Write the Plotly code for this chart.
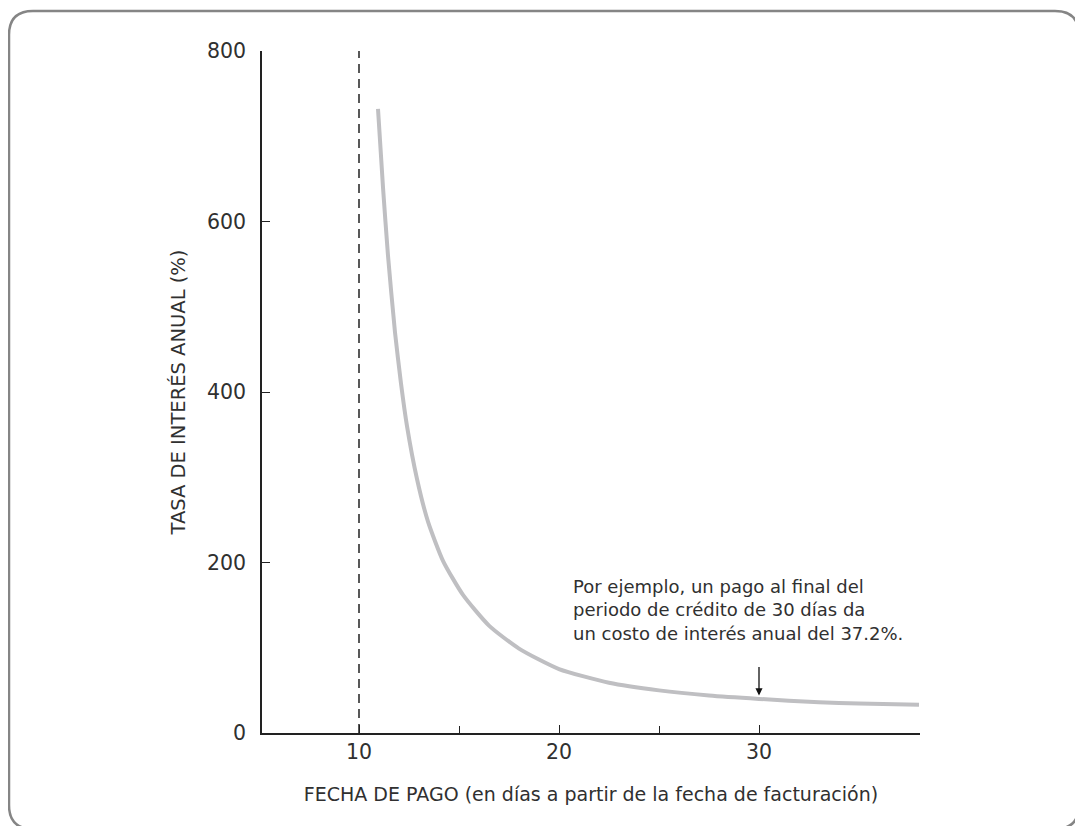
import plotly.graph_objects as go

# =========================================================
# Data
# =========================================================
dias_pago = [10.95, 11.2, 11.45, 11.8, 12.1, 12.4, 12.9, 13.45, 14.2, 15.2,
             16.5, 18.0, 20.0, 22.5, 25.0, 27.5, 30.0, 33.0, 35.0, 38.0]
tasa_anual = [732, 640, 560, 470, 410, 360, 298, 248, 202, 162,
              126, 99, 75, 59, 50, 44, 40, 36, 34.5, 33]

x_ticks = [10, 20, 30]
x_minor = [15, 25]
y_ticks = [0, 200, 400, 600, 800]

descuento_dia = 10
ejemplo_dia = 30
ejemplo_tasa = 44

nota = [
    "Por ejemplo, un pago al final del",
    "periodo de crédito de 30 días da",
    "un costo de interés anual del 37.2%.",
]

FONT = "DejaVu Sans, Liberation Sans, Arial, sans-serif"
TEXT = "#303030"
AXIS = "#222222"

# the page body adds an 8px offset, so the figure is 8px smaller
OFF = 8
W, H = 1083 - OFF, 826 - OFF
L, T = 262 - OFF, 51 - OFF
PW, PH = 658, 682
R, B = W - L - PW, H - T - PH


def to_paper(x, y):
    # screen pixel -> paper coordinates
    return (x - OFF - L) / PW, (T + PH - (y - OFF)) / PH


def rounded_frame(x0, y0, x1, y1, r):
    a = to_paper(x0 + r, y0)
    parts = [f"M {a[0]},{a[1]}"]
    for (lx, ly), (cx, cy), (ex, ey) in [
        ((x1 - r, y0), (x1, y0), (x1, y0 + r)),
        ((x1, y1 - r), (x1, y1), (x1 - r, y1)),
        ((x0 + r, y1), (x0, y1), (x0, y1 - r)),
        ((x0, y0 + r), (x0, y0), (x0 + r, y0)),
    ]:
        p, c, e = to_paper(lx, ly), to_paper(cx, cy), to_paper(ex, ey)
        parts.append(f"L {p[0]},{p[1]}")
        parts.append(f"Q {c[0]},{c[1]} {e[0]},{e[1]}")
    return " ".join(parts) + " Z"


fig = go.Figure()

# curva de tasa
fig.add_trace(
    go.Scatter(
        x=dias_pago,
        y=tasa_anual,
        mode="lines",
        line=dict(color="#bfbfc2", width=4, shape="spline", smoothing=0.6),
        showlegend=False,
        hoverinfo="skip",
    )
)

# linea punteada al final del periodo de descuento
fig.add_shape(
    type="line",
    x0=descuento_dia, x1=descuento_dia, y0=0, y1=800,
    xref="x", yref="y",
    line=dict(color=AXIS, width=1.5, dash="9px,6px"),
)

# marco redondeado (el borde inferior queda cortado como en el original)
fig.add_shape(
    type="path",
    xref="paper", yref="paper",
    path=rounded_frame(9, 11, 1079, 829, 24),
    line=dict(color="#858585", width=2.5),
    layer="below",
)

# flecha al punto de 30 dias
fig.add_annotation(
    x=ejemplo_dia, y=ejemplo_tasa, xref="x", yref="y",
    text="", showarrow=True, ax=0, ay=-30,
    arrowhead=2, arrowsize=1.1, arrowwidth=1.3, arrowcolor="#111111",
)

fig.add_annotation(
    x=20.6, y=to_paper(0, 610)[1], xref="x", yref="paper",
    text="<br>".join(nota), showarrow=False,
    xanchor="left", yanchor="middle", align="left",
    font=dict(family=FONT, size=18, color=TEXT),
)

fig.update_layout(
    width=W,
    height=H,
    margin=dict(l=L, r=R, t=T, b=B),
    paper_bgcolor="white",
    plot_bgcolor="white",
    font=dict(family=FONT, color=TEXT),
    showlegend=False,
)

fig.update_xaxes(
    range=[5.15, 38.05],
    tickvals=x_ticks,
    ticks="inside",
    ticklen=8,
    tickwidth=1.3,
    tickcolor=AXIS,
    minor=dict(tickvals=x_minor, ticks="inside", ticklen=7, tickwidth=1.3, tickcolor=AXIS),
    showline=True,
    linecolor=AXIS,
    linewidth=1.5,
    showgrid=False,
    zeroline=False,
    tickfont=dict(size=20.5, color=TEXT),
    ticklabelstandoff=0,
    title=dict(
        text="FECHA DE PAGO (en días a partir de la fecha de facturación)",
        font=dict(size=19, color=TEXT),
        standoff=24,
    ),
)

fig.update_yaxes(
    range=[0, 800],
    tickvals=y_ticks,
    ticks="inside",
    ticklen=8,
    tickwidth=1.3,
    tickcolor=AXIS,
    showline=True,
    linecolor=AXIS,
    linewidth=1.5,
    showgrid=False,
    zeroline=False,
    tickfont=dict(size=20.5, color=TEXT),
    ticklabelstandoff=10,
    title=dict(
        text="TASA DE INTERÉS ANUAL (%)",
        font=dict(size=19.5, color=TEXT),
        standoff=16,
    ),
)

fig.write_html("out.html")
